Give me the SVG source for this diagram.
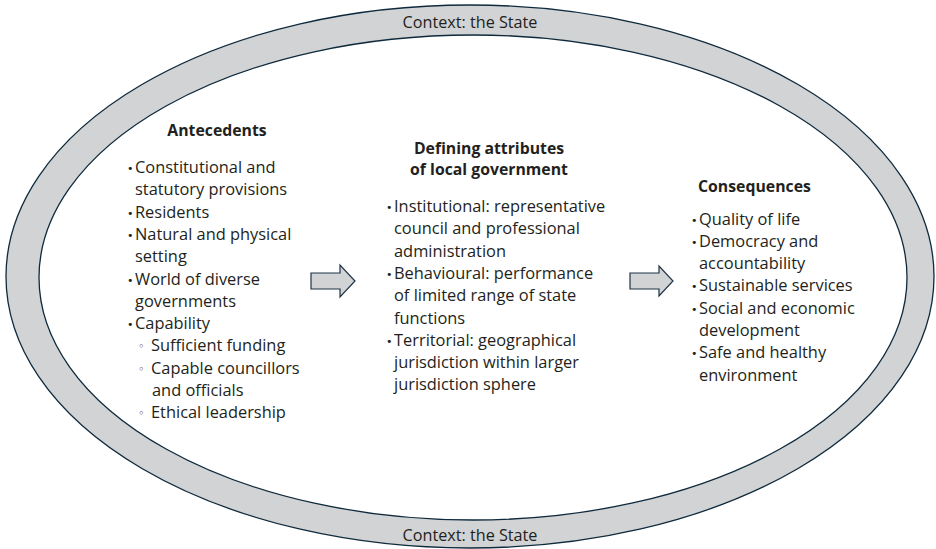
<svg xmlns="http://www.w3.org/2000/svg" width="936" height="549" viewBox="0 0 936 549">
<style>
  .band { fill: #d1d3d4; stroke: #0f2a3d; stroke-width: 1.3; }
  .inner { fill: #ffffff; stroke: #0f2a3d; stroke-width: 1.3; }
  .t { font-family: "Open Sans", "Noto Sans", sans-serif; font-size: 16.4px; fill: #231f20; }
  .h { font-family: "Open Sans", "Noto Sans", sans-serif; font-size: 15.8px; font-weight: bold; fill: #231f20; }
  .ctx { font-family: "Open Sans", "Noto Sans", sans-serif; font-size: 16.2px; fill: #231f20; text-anchor: middle; }
  .b { font-family: "DejaVu Sans", sans-serif; font-size: 11px; fill: #231f20; }
  .arrow { fill: #d1d3d4; stroke: #1f3347; stroke-width: 1.2; stroke-linejoin: miter; }
</style>
<g id="context">
  <ellipse class="band" cx="470" cy="276.5" rx="464" ry="271.5"/>
  <ellipse class="inner" cx="473" cy="277.5" rx="434" ry="242.5"/>
  <text class="ctx" x="470" y="28">Context: the State</text>
  <text class="ctx" x="470" y="541">Context: the State</text>
</g>
<g id="antecedents">
  <text class="h" x="217" y="136" text-anchor="middle">Antecedents</text>
  <text class="b" x="127" y="172">•</text>
  <text class="t" x="135" y="173">Constitutional and</text>
  <text class="t" x="135" y="195.3">statutory provisions</text>
  <text class="b" x="127" y="216.6">•</text>
  <text class="t" x="135" y="217.6">Residents</text>
  <text class="b" x="127" y="238.9">•</text>
  <text class="t" x="135" y="239.9">Natural and physical</text>
  <text class="t" x="135" y="262.2">setting</text>
  <text class="b" x="127" y="283.5">•</text>
  <text class="t" x="135" y="284.5">World of diverse</text>
  <text class="t" x="135" y="306.8">governments</text>
  <text class="b" x="127" y="328.1">•</text>
  <text class="t" x="135" y="329.1">Capability</text>
  <text class="b" x="138" y="350.4">◦</text>
  <text class="t" x="151" y="351.4">Sufficient funding</text>
  <text class="b" x="138" y="372.7">◦</text>
  <text class="t" x="151" y="373.7">Capable councillors</text>
  <text class="t" x="152" y="396">and officials</text>
  <text class="b" x="138" y="417.3">◦</text>
  <text class="t" x="151" y="418.3">Ethical leadership</text>
</g>
<g id="attributes">
  <text class="h" x="489" y="154" text-anchor="middle">Defining attributes</text>
  <text class="h" x="489" y="175" text-anchor="middle">of local government</text>
  <text class="b" x="386" y="211">•</text>
  <text class="t" x="394" y="212">Institutional: representative</text>
  <text class="t" x="394" y="234.3">council and professional</text>
  <text class="t" x="394" y="256.6">administration</text>
  <text class="b" x="386" y="277.9">•</text>
  <text class="t" x="394" y="278.9">Behavioural: performance</text>
  <text class="t" x="394" y="301.2">of limited range of state</text>
  <text class="t" x="394" y="323.5">functions</text>
  <text class="b" x="386" y="344.8">•</text>
  <text class="t" x="394" y="345.8">Territorial: geographical</text>
  <text class="t" x="394" y="368.1">jurisdiction within larger</text>
  <text class="t" x="394" y="390.4">jurisdiction sphere</text>
</g>
<g id="consequences">
  <text class="h" x="698" y="192">Consequences</text>
  <text class="b" x="691" y="223.5">•</text>
  <text class="t" x="699" y="224.5">Quality of life</text>
  <text class="b" x="691" y="245.8">•</text>
  <text class="t" x="699" y="246.8">Democracy and</text>
  <text class="t" x="699" y="269.1">accountability</text>
  <text class="b" x="691" y="290.4">•</text>
  <text class="t" x="699" y="291.4">Sustainable services</text>
  <text class="b" x="691" y="312.7">•</text>
  <text class="t" x="699" y="313.7">Social and economic</text>
  <text class="t" x="699" y="336">development</text>
  <text class="b" x="691" y="357.3">•</text>
  <text class="t" x="699" y="358.3">Safe and healthy</text>
  <text class="t" x="699" y="380.6">environment</text>
</g>
<g id="connectors">
  <polygon class="arrow" points="311,273 340,273 340,265 355,281 340,297 340,289 311,289"/>
  <polygon class="arrow" points="630,273 659,273 659,266 673,281 659,296 659,289 630,289"/>
</g>
</svg>
